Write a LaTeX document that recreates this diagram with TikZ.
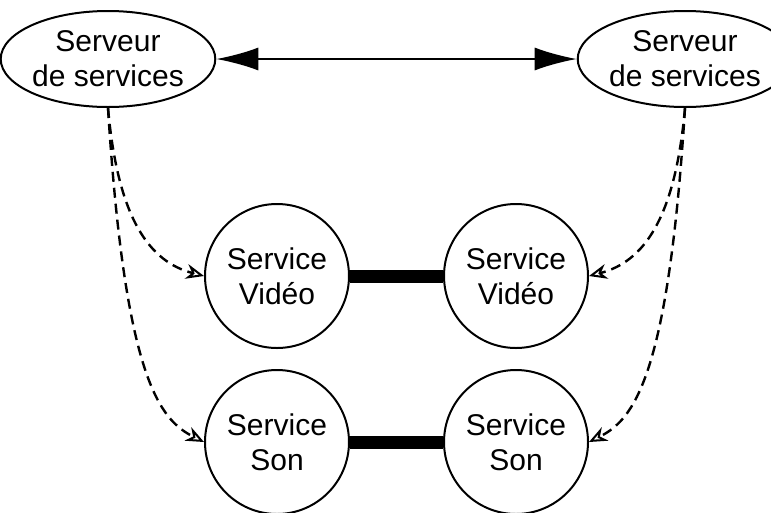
\documentclass[tikz,border=0pt]{standalone}
\usepackage{fontspec}
\setmainfont{Liberation Sans}
\usetikzlibrary{arrows.meta,shapes.geometric}
\begin{document}
\begin{tikzpicture}[x=1pt,y=-1pt,
  srv/.style={draw,line width=2pt,ellipse,minimum width=194pt,minimum height=96pt,inner sep=0pt,align=center,font=\fontsize{30}{35}\selectfont},
  svc/.style={draw,line width=2pt,circle,minimum size=144pt,inner sep=0pt,align=center,font=\fontsize{30}{35}\selectfont},
  dep/.style={line width=2.4pt,dash pattern=on 10pt off 6pt,-{Stealth[open,length=18pt,width=15pt,line width=2pt]}},
  link/.style={line width=13pt},
  peer/.style={line width=2pt,{Latex[length=42pt,width=23pt]}-{Latex[length=42pt,width=23pt]}}]
\clip (0,0) rectangle (771,512);
\node[srv] (lsrv) at (108,59) {Serveur\\de services};
\node[srv] (rsrv) at (685,59) {Serveur\\de services};
\node[svc] (vl) at (277,276) {Service\\Vidéo};
\node[svc] (vr) at (516,276) {Service\\Vidéo};
\node[svc] (sl) at (277,442) {Service\\Son};
\node[svc] (sr) at (516,442) {Service\\Son};
\draw[peer] (lsrv.east) -- (rsrv.west);
\draw[link] (vl.east) -- (vr.west);
\draw[link] (sl.east) -- (sr.west);
\draw[dep] (lsrv.south) .. controls (118,220) and (150,262) .. (vl.west);
\draw[dep] (lsrv.south) .. controls (125,380) and (160,420) .. (sl.west);
\draw[dep] (rsrv.south) .. controls (675,220) and (643,262) .. (vr.east);
\draw[dep] (rsrv.south) .. controls (668,380) and (633,420) .. (sr.east);
\end{tikzpicture}
\end{document}
